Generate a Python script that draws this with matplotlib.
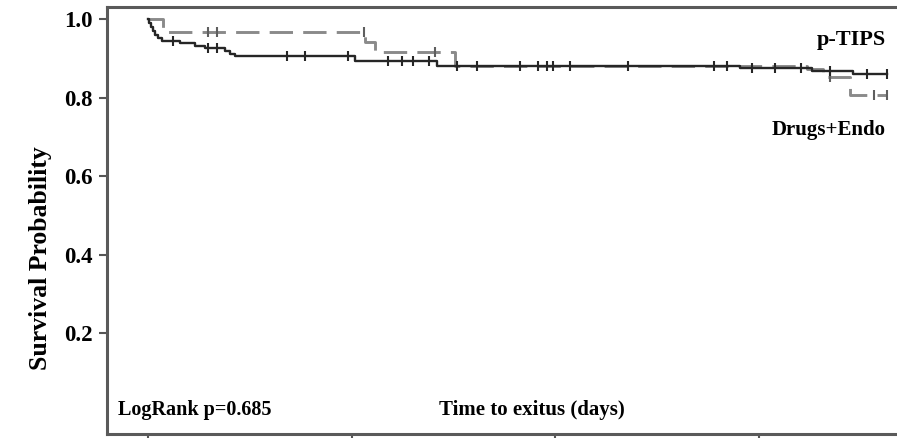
import matplotlib
matplotlib.use("Agg")
import matplotlib.pyplot as plt
import numpy as np

# Kaplan-Meier estimates (days, survival probability after each event)
ptips_event_days = [2, 7, 12, 17, 25, 34, 79, 115, 140, 189, 201, 214, 509, 710, 1455, 1631, 1732]
ptips_surv = [0.99, 0.98, 0.97, 0.96, 0.952, 0.945, 0.938, 0.931, 0.926, 0.919, 0.912, 0.906,
              0.893, 0.880, 0.875, 0.868, 0.860]
ptips_censored = [61, 147, 170, 342, 386, 491, 590, 624, 651, 690, 759, 808, 914, 958, 980, 995,
                  1037, 1179, 1391, 1423, 1484, 1541, 1604, 1676, 1767, 1816]

drugs_event_days = [37, 533, 558, 754, 1619, 1658, 1725]
drugs_surv = [0.967, 0.941, 0.916, 0.880, 0.873, 0.852, 0.806]
drugs_censored = [147, 170, 531, 705, 1676, 1785, 1816]

y_ticks = [0.2, 0.4, 0.6, 0.8, 1.0]
y_tick_labels = ["0.2", "0.4", "0.6", "0.8", "1.0"]
x_ticks = [0, 500, 1000, 1500]

plt.rcParams["font.family"] = ["Liberation Serif", "DejaVu Serif"]
plt.rcParams["font.weight"] = "bold"

fig = plt.figure(figsize=(8.97, 4.38), dpi=100)
W, H = 897, 438
ax = fig.add_axes([107 / W, (H - 434) / H, (905 - 107) / W, (434 - 7) / H])


def km_steps(event_days, surv, end_day):
    xs = [0] + list(event_days) + [end_day]
    ys = [1.0] + list(surv) + [surv[-1]]
    return np.array(xs), np.array(ys)


def surv_at(t, event_days, surv):
    s = 1.0
    for d, v in zip(event_days, surv):
        if d <= t:
            s = v
    return s


# p-TIPS: solid dark line
xs, ys = km_steps(ptips_event_days, ptips_surv, max(ptips_censored))
ax.step(xs, ys, where="post", color="#262626", lw=1.7, zorder=3)
ax.plot(ptips_censored, [surv_at(t, ptips_event_days, ptips_surv) for t in ptips_censored],
        ls="none", marker="|", ms=7, mew=1.5, color="#262626", zorder=4)

# Drugs+Endo: dashed gray line
xs, ys = km_steps(drugs_event_days, drugs_surv, max(drugs_censored))
ax.step(xs, ys, where="post", color="#8a8a8a", lw=2.1, dashes=(8, 3.5), zorder=2)
ax.plot(drugs_censored, [surv_at(t, drugs_event_days, drugs_surv) for t in drugs_censored],
        ls="none", marker="|", ms=7, mew=1.5, color="#5e5e5e", zorder=2)

ax.set_xlim(-101, 1860)
ax.set_ylim(-0.057, 1.0306)
ax.set_yticks(y_ticks)
ax.set_yticklabels(y_tick_labels, fontsize=16.5, fontweight="bold")
ax.set_xticks(x_ticks)
ax.set_xticklabels([])
ax.tick_params(direction="out", length=6, width=1.5, color="#555555", pad=4)
for side in ["left", "top", "bottom", "right"]:
    ax.spines[side].set_color("#5a5a5a")
    ax.spines[side].set_linewidth(2.2)

fig.text(41 / W, (H - 258) / H, "Survival Probability", rotation=90, ha="center", va="center",
         fontsize=18.5, fontweight="bold")
fig.text(532 / W, (H - 410) / H, "Time to exitus (days)", ha="center", va="center",
         fontsize=15, fontweight="bold")
fig.text(118 / W, (H - 410) / H, "LogRank p=0.685", ha="left", va="center",
         fontsize=14.5, fontweight="bold")
fig.text(886 / W, (H - 40) / H, "p-TIPS", ha="right", va="center",
         fontsize=16, fontweight="bold")
fig.text(886 / W, (H - 130) / H, "Drugs+Endo", ha="right", va="center",
         fontsize=15, fontweight="bold")

fig.savefig("out.png", dpi=100)
